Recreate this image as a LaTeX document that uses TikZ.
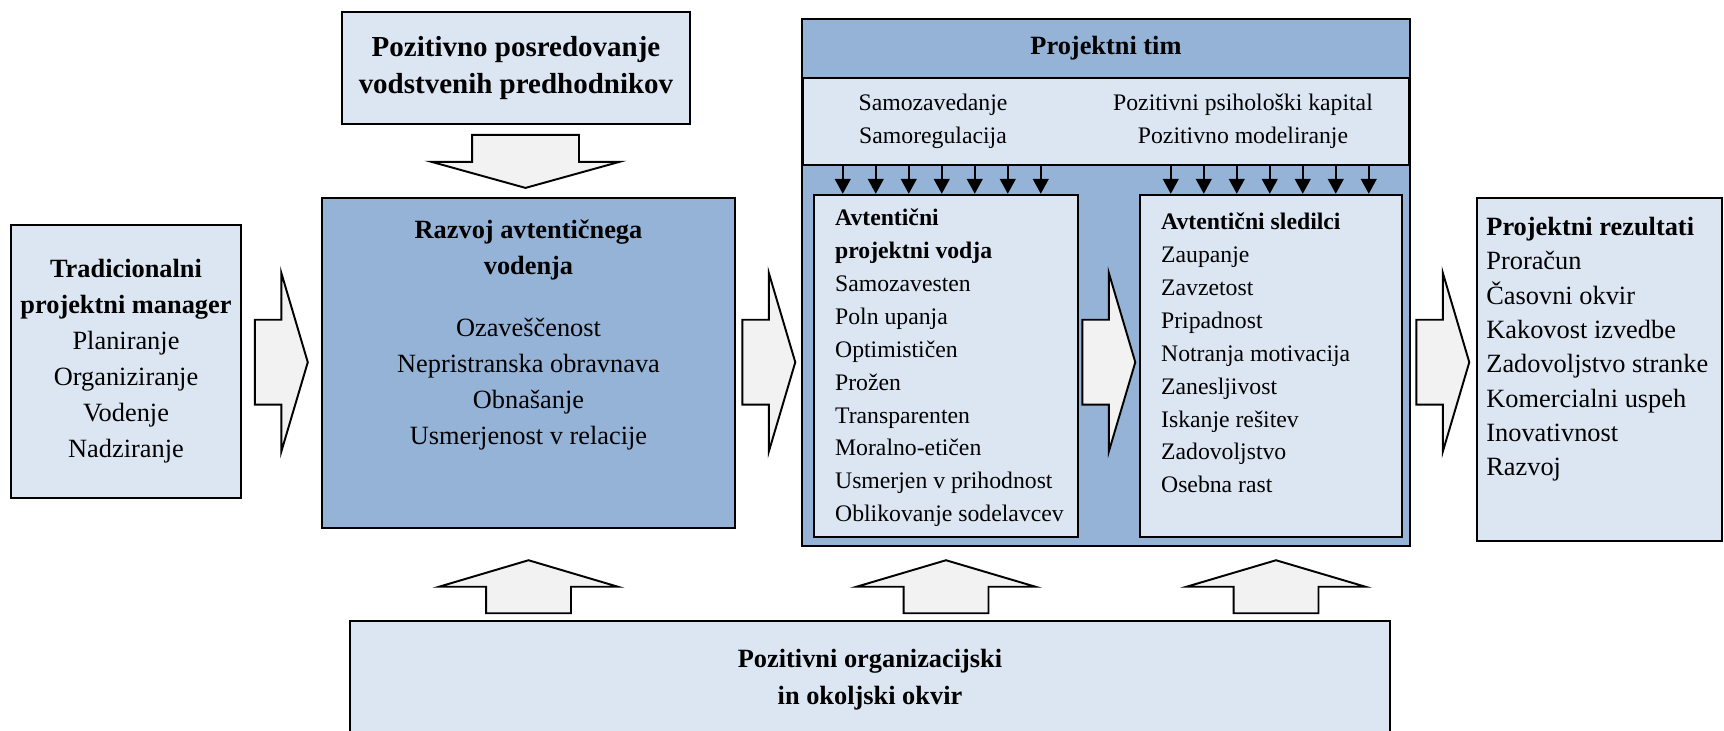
\documentclass[tikz,border=0pt]{standalone}
\usepackage{fontspec}
\setmainfont{Liberation Serif}
\usetikzlibrary{arrows.meta,positioning,shapes.arrows,calc}

\definecolor{darkfill}{HTML}{95B3D7}
\definecolor{lightfill}{HTML}{DCE6F2}
\definecolor{arrowfill}{HTML}{F2F2F2}

\begin{document}
\begin{tikzpicture}[
    font=\fontsize{15}{20.5}\selectfont,
    box/.style={draw, line width=1.1pt, fill=lightfill, inner sep=0pt},
    darkbox/.style={box, fill=darkfill},
    inbox/.style={draw, line width=1.4pt, fill=lightfill},
    list/.style={align=left, inner sep=0pt, font=\fontsize{13.5}{18.7}\selectfont},
    bigarrow/.style={single arrow, draw, line width=1.1pt, fill=arrowfill, inner xsep=0pt, inner ysep=0.83cm,
        minimum width=0pt, minimum height=1.06cm, single arrow head extend=0.94cm, single arrow tip angle=147},
    tick/.style={-{Triangle[length=0.3cm, width=0.32cm]}, line width=0.9pt}
]
    \useasboundingbox (0,0) rectangle (34.48,-14.62);

    % left and top boxes
    \node[box, minimum width=4.6cm, minimum height=5.46cm, align=center] (trad) at (2.52,-7.23)
        {\textbf{Tradicionalni}\\\textbf{projektni manager}\\Planiranje\\Organiziranje\\Vodenje\\Nadziranje};
    \node[box, minimum width=6.96cm, minimum height=2.24cm, align=center, font=\fontsize{16.5}{21}\selectfont\bfseries] (predh) at (10.32,-1.36)
        {Pozitivno posredovanje\\vodstvenih predhodnikov};
    \node[darkbox, minimum width=8.26cm, minimum height=6.6cm] (razvoj) at (10.57,-7.26) {};
    \node[align=center, inner sep=0pt, below=0.46cm of razvoj.north] (razvojtxt)
        {\textbf{Razvoj avtentičnega}\\\textbf{vodenja}\\[0.5cm]Ozaveščenost\\Nepristranska obravnava\\Obnašanje\\Usmerjenost v relacije};

    % project team
    \node[darkbox, draw=none, minimum width=12.12cm, minimum height=10.5cm] (tim) at (22.12,-5.65) {};
    \node[box, minimum width=12.12cm, minimum height=1.74cm] (band) at (22.12,-2.43) {};
    \draw[line width=1.6pt] (tim.north west) rectangle (tim.south east);
    \node[font=\fontsize{15}{20.5}\selectfont\bfseries] (timtitle) at ($(tim.north)!0.5!(band.north)$) {Projektni tim};
    \node[list, align=center] (selfL) at (18.66,-2.43) {Samozavedanje\\Samoregulacija};
    \node[list, align=center] (selfR) at (24.86,-2.43) {Pozitivni psihološki kapital\\Pozitivno modeliranje};

    \node[inbox, minimum width=5.28cm, minimum height=6.84cm] (lead) at (18.92,-7.32) {};
    \node[inbox, minimum width=5.24cm, minimum height=6.84cm] (follow) at (25.42,-7.32) {};
    \node[list, below right=0.3cm and 0.44cm of lead.north west] (leadtxt)
        {\textbf{Avtentični}\\\textbf{projektni vodja}\\Samozavesten\\Poln upanja\\Optimističen\\Prožen\\Transparenten\\Moralno-etičen\\Usmerjen v prihodnost\\Oblikovanje sodelavcev};
    \node[list, below right=0.38cm and 0.44cm of follow.north west] (followtxt)
        {\textbf{Avtentični sledilci}\\Zaupanje\\Zavzetost\\Pripadnost\\Notranja motivacija\\Zanesljivost\\Iskanje rešitev\\Zadovoljstvo\\Osebna rast};

    \foreach \k in {0,...,6} {
        \coordinate (p) at ($(lead.north west)+({0.6+0.66*\k},0)$);
        \draw[tick] (band.south -| p) -- (p);
        \coordinate (q) at ($(follow.north west)+({0.64+0.66*\k},0)$);
        \draw[tick] (band.south -| q) -- (q);
    }

    % results and frame
    \node[box, minimum width=4.9cm, minimum height=6.86cm] (results) at (31.99,-7.39) {};
    \node[list, font=\fontsize{15}{19.5}\selectfont, below right=0.4cm and 0.2cm of results.north west] (restxt)
        {\textbf{Projektni rezultati}\\Proračun\\Časovni okvir\\Kakovost izvedbe\\Zadovoljstvo stranke\\Komercialni uspeh\\Inovativnost\\Razvoj};
    \node[box, minimum width=20.8cm, minimum height=2.36cm, align=center, font=\fontsize{15}{21}\selectfont\bfseries] (okvir) at (17.4,-13.6)
        {Pozitivni organizacijski\\in okoljski okvir};

    % block arrows
    \node[bigarrow] (a1) at ($(trad.east)!0.5!(razvoj.west)+(-0.13,0)$) {};
    \node[bigarrow] (a2) at ($(razvoj.east |- a1)!0.5!(tim.west |- a1)+(-0.13,0)$) {};
    \node[bigarrow] (a3) at ($(lead.east |- a1)!0.5!(follow.west |- a1)+(-0.13,0)$) {};
    \node[bigarrow] (a4) at ($(tim.east |- a1)!0.5!(results.west |- a1)+(-0.13,0)$) {};
    \node[bigarrow, rotate=90] (u1) at ($(razvoj.south |- okvir.north)+(0,0.54)$) {};
    \node[bigarrow, rotate=90] (u2) at ($(lead.south |- okvir.north)+(0,0.54)$) {};
    \node[bigarrow, rotate=90] (u3) at ($(follow.south |- okvir.north)+(0.1,0.54)$) {};
    \node[bigarrow, rotate=-90, inner ysep=1.05cm, single arrow head extend=0.81cm, single arrow tip angle=149] (d1)
        at ($(razvoj.north |- predh.south)!0.5!(razvoj.north)+(-0.06,0.14)$) {};
\end{tikzpicture}
\end{document}
